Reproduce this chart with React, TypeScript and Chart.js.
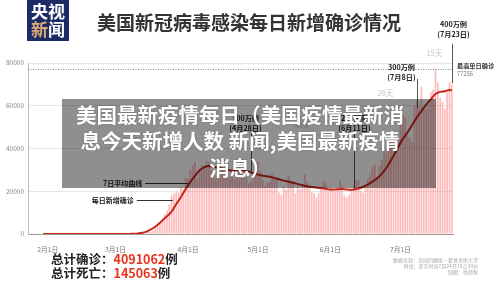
import React, { useEffect, useRef } from 'react';
import { Chart, registerables } from 'chart.js';
Chart.register(...registerables);

const FONT = '"Noto Sans CJK SC", "Noto Sans", sans-serif';

// day index 0 = 1月22日
const dailyCases: number[] = [
  0, 0, 0, 1, 0, 2, 0, 0, 0, 1,
  1, 0, 3, 0, 0, 0, 0, 0, 0, 1,
  0, 1, 0, 1, 0, 0, 0, 0, 0, 0,
  2, 0, 0, 21, 0, 6, 1, 3, 6, 8,
  23, 20, 31, 70, 88, 129, 127, 296, 286, 407,
  450, 622, 730, 953, 1100, 1500, 2600, 4500, 5600, 7000,
  9300, 11000, 14000, 18000, 18900, 20000, 19500, 22000, 21000, 26300,
  25900, 29900, 32100, 33700, 25700, 29500, 32200, 32100, 34100, 33800,
  29900, 27800, 25900, 26700, 30000, 31200, 32900, 28600, 26700, 29700,
  25800, 28900, 32200, 35600, 34000, 26500, 23600, 24400, 27300, 30000,
  33900, 29300, 25300, 22500, 24100, 24400, 28400, 26900, 25300, 19400,
  18200, 22000, 20800, 27400, 25100, 24000, 19000, 22700, 21000, 21900,
  27900, 24100, 21700, 19700, 18900, 17000, 19300, 21700, 25000, 24400,
  20100, 21900, 20600, 20100, 21700, 25300, 22800, 18100, 17100, 18400,
  20900, 22500, 25500, 25400, 20000, 19300, 23600, 25600, 27700, 31300,
  32600, 26100, 32000, 34700, 38700, 39600, 45300, 43500, 41600, 40500,
  44600, 51400, 55800, 54400, 46200, 45300, 43200, 60300, 62400, 59700,
  68900, 59900, 58300, 61200, 66400, 67600, 77255, 71000, 63800, 61800,
  58500, 66200, 71000, 69900,
];

const avgDays: number[] = [
  8, 40, 45, 48, 50, 52, 54, 56, 58, 60, 63, 65, 67, 69, 71, 73, 75, 77, 79, 81,
  84, 87, 90, 93, 96, 99, 102, 106, 110, 115, 119, 123, 127, 132, 136, 140, 143,
  146, 149, 152, 155, 158, 160, 162, 164, 166, 168, 170, 172, 174, 176, 178, 180,
  182, 183,
];
const avgValues: number[] = [
  0, 5, 50, 150, 450, 1000, 2000, 3400, 5300, 7300, 10500, 14000, 17300, 21000,
  24300, 27200, 29800, 31300, 31800, 31500, 30800, 30000, 29600, 29800, 29300,
  28000, 27300, 26500, 25200, 24000, 22800, 22000, 21500, 20800, 21000, 20700,
  21300, 22500, 24500, 27000, 31000, 36500, 40500, 44500, 47500, 51000, 54500,
  57500, 60500, 63000, 65500, 66500, 66800, 67400, 67200,
];

const tickDays: number[] = [10, 39, 70, 100, 131, 161];
const tickLabels: string[] = ['2月1日', '3月1日', '4月1日', '5月1日', '6月1日', '7月1日'];
const yTickValues: number[] = [0, 20000, 40000, 60000, 80000];

const peakValue = 77255;

const milestoneDays: number[] = [97, 141, 168, 183];
const milestoneLabels: string[] = ['100万例', '200万例', '300万例', '400万例'];
const milestoneDates: string[] = ['(4月28日)', '(6月11日)', '(7月8日)', '(7月23日)'];
const milestoneLabelValues: number[] = [54000, 54000, 78000, 98000];
const milestoneLineStarts: number[] = [48000, 48000, 72500, 89000];
const milestoneLineEnds: number[] = [28500, 21000, 59000, 70500];
const milestoneLabelShift: number[] = [-6, 0, -16, 1];

const gapLabels: string[] = ['45天', '28天', '15天'];
const gapValues: number[] = [51000, 66000, 84700];

const sourceLines: string[] = [
  '数据来源：美国约翰斯·霍普金斯大学',
  '时间：美东时间7月24日16点34分',
  '制图：徐德智',
];

const annotationPlugin = {
  id: 'newsAnnotations',
  afterDatasetsDraw(chart: any) {
    const ctx = chart.ctx;
    const xs = chart.scales.x;
    const ys = chart.scales.y;
    const area = chart.chartArea;
    ctx.save();

    // dotted peak line
    const py = Math.round(ys.getPixelForValue(peakValue)) + 0.5;
    ctx.strokeStyle = '#8a8a8a';
    ctx.lineWidth = 1;
    ctx.setLineDash([1, 1.5]);
    ctx.beginPath();
    ctx.moveTo(area.left, py);
    ctx.lineTo(area.right, py);
    ctx.stroke();
    ctx.setLineDash([]);

    ctx.textBaseline = 'middle';
    ctx.textAlign = 'left';
    ctx.fillStyle = '#333';
    ctx.font = `bold 6.2px ${FONT}`;
    ctx.fillText('最高单日确诊', area.right + 4, py - 3.5);
    ctx.fillStyle = '#777';
    ctx.font = `5.8px ${FONT}`;
    ctx.fillText(String(peakValue), area.right + 4, py + 4);

    // milestones
    milestoneDays.forEach((d, i) => {
      const x = Math.round(xs.getPixelForValue(d)) + 0.5;
      const ly = ys.getPixelForValue(milestoneLabelValues[i]);
      ctx.fillStyle = '#222';
      ctx.textAlign = 'center';
      ctx.font = `bold 7.2px ${FONT}`;
      ctx.fillText(milestoneLabels[i], x + milestoneLabelShift[i], ly);
      ctx.fillText(milestoneDates[i], x + milestoneLabelShift[i], ly + 9.5);
      ctx.strokeStyle = '#555';
      ctx.lineWidth = 1;
      ctx.beginPath();
      ctx.moveTo(x, ys.getPixelForValue(milestoneLineStarts[i]));
      ctx.lineTo(x, ys.getPixelForValue(milestoneLineEnds[i]));
      ctx.stroke();
    });

    // gap labels
    gapLabels.forEach((t, i) => {
      const mid = (milestoneDays[i] + milestoneDays[i + 1]) / 2;
      ctx.fillStyle = '#c4c4c4';
      ctx.textAlign = 'center';
      ctx.font = `7.5px ${FONT}`;
      ctx.fillText(t, xs.getPixelForValue(mid), ys.getPixelForValue(gapValues[i]));
    });

    // left annotations
    const drawPointer = (text: string, day: number, value: number, len: number) => {
      const ex = xs.getPixelForValue(day);
      const ey = Math.round(ys.getPixelForValue(value)) + 0.5;
      ctx.strokeStyle = '#333';
      ctx.lineWidth = 1;
      ctx.beginPath();
      ctx.moveTo(ex - len, ey);
      ctx.lineTo(ex, ey);
      ctx.stroke();
      ctx.fillStyle = '#222';
      ctx.textAlign = 'right';
      ctx.font = `bold 7px ${FONT}`;
      ctx.fillText(text, ex - len - 3, ey);
    };
    drawPointer('7日平均曲线', 70.5, 23900, 44);
    drawPointer('每日新增确诊', 63.5, 15900, 36);

    ctx.restore();
  },
  afterDraw(chart: any) {
    const ctx = chart.ctx;
    ctx.save();
    ctx.fillStyle = '#a8a8a8';
    ctx.textAlign = 'right';
    ctx.textBaseline = 'middle';
    ctx.font = `5px ${FONT}`;
    sourceLines.forEach((s, i) => {
      ctx.fillText(s, 478, 260 + i * 5.8);
    });
    ctx.restore();
  },
};

export default function App() {
  const canvasRef = useRef<HTMLCanvasElement | null>(null);

  useEffect(() => {
    if (!canvasRef.current) return;
    const chart = new Chart(canvasRef.current, {
      type: 'bar',
      data: {
        datasets: [
          {
            type: 'line',
            label: '7日平均曲线',
            data: avgDays.map((d, i) => ({ x: d, y: avgValues[i] })),
            borderColor: '#c8281b',
            borderWidth: 2,
            pointRadius: 0,
            cubicInterpolationMode: 'monotone',
            order: 0,
          } as any,
          {
            type: 'bar',
            label: '每日新增确诊',
            data: dailyCases.map((v, i) => ({ x: i, y: v })),
            backgroundColor: 'rgba(255, 120, 120, 0.5)',
            barPercentage: 0.72,
            categoryPercentage: 1,
            order: 1,
          } as any,
        ],
      },
      options: {
        responsive: false,
        animation: false,
        devicePixelRatio: 1,
        layout: { padding: { left: 0, top: 63, right: 47, bottom: 34 } },
        plugins: { legend: { display: false }, tooltip: { enabled: false } },
        scales: {
          x: {
            type: 'linear',
            min: 1.5,
            max: 183.5,
            offset: false,
            grid: { display: false, offset: false },
            border: { display: true, color: '#999', width: 1 },
            afterBuildTicks: (scale: any) => {
              scale.ticks = tickDays.map((v) => ({ value: v }));
            },
            afterFit: (scale: any) => {
              scale.height = 20;
            },
            ticks: {
              autoSkip: false,
              maxRotation: 0,
              padding: 3,
              color: '#777',
              font: { family: FONT, size: 6.8 },
              callback: (v: any) => {
                const idx = tickDays.indexOf(Number(v));
                return idx >= 0 ? tickLabels[idx] : '';
              },
            },
          },
          y: {
            type: 'linear',
            min: 0,
            max: 80000,
            grid: { color: '#e6e6e6', drawTicks: false, lineWidth: 1 },
            border: { display: true, color: '#bbb', width: 1 },
            afterBuildTicks: (scale: any) => {
              scale.ticks = yTickValues.map((v) => ({ value: v }));
            },
            afterFit: (scale: any) => {
              scale.width = 28;
            },
            ticks: {
              padding: 4,
              color: '#888',
              font: { family: FONT, size: 6.5 },
              callback: (v: any) => String(v),
            },
          },
        },
      },
      plugins: [annotationPlugin],
    } as any);
    return () => chart.destroy();
  }, []);

  return (
    <div
      style={{
        position: 'absolute',
        left: 0,
        top: 0,
        width: 500,
        height: 288,
        background: '#fff',
        overflow: 'hidden',
        fontFamily: FONT,
      }}
    >
      <canvas
        ref={canvasRef}
        width={500}
        height={288}
        style={{ position: 'absolute', left: 0, top: 0, width: 500, height: 288 }}
      />
      <div
        style={{
          position: 'absolute',
          left: 27,
          top: 0,
          width: 42,
          height: 41,
          background: '#1c2a66',
          fontWeight: 700,
          fontSize: 17,
          lineHeight: '17px',
          color: '#fff',
          whiteSpace: 'nowrap',
        }}
      >
        <div style={{ position: 'absolute', left: 4, top: 2 }}>央视</div>
        <div style={{ position: 'absolute', left: 4, top: 19.5 }}>
          <span style={{ color: '#dfae78' }}>新</span>闻
        </div>
      </div>
      <div
        style={{
          position: 'absolute',
          left: 97,
          top: 12,
          fontSize: 19,
          lineHeight: '19px',
          fontWeight: 700,
          color: '#333',
          whiteSpace: 'nowrap',
        }}
      >
        美国新冠病毒感染每日新增确诊情况
      </div>
      <div
        style={{
          position: 'absolute',
          left: 62,
          top: 99,
          width: 374,
          height: 89,
          background: 'rgba(0,0,0,0.44)',
        }}
      />
      <div
        style={{
          position: 'absolute',
          left: 62,
          top: 100.6,
          width: 356,
          textAlign: 'center',
          fontSize: 20.5,
          lineHeight: '26.5px',
          fontWeight: 700,
          color: '#fff',
          textShadow: '0 0 2px rgba(0,0,0,0.25)',
        }}
      >
        美国最新疫情每日（美国疫情最新消
        <br />
        息今天新增人数 新闻,美国最新疫情
        <br />
        消息）
      </div>
      <div
        style={{
          position: 'absolute',
          left: 51,
          top: 251.5,
          fontSize: 12.5,
          lineHeight: '14.1px',
          fontWeight: 700,
          color: '#222',
          whiteSpace: 'nowrap',
        }}
      >
        <div>
          总计确诊：<span style={{ color: '#e8321e' }}>4091062</span>例
        </div>
        <div>
          总计死亡：<span style={{ color: '#e8321e' }}>145063</span>例
        </div>
      </div>
    </div>
  );
}
